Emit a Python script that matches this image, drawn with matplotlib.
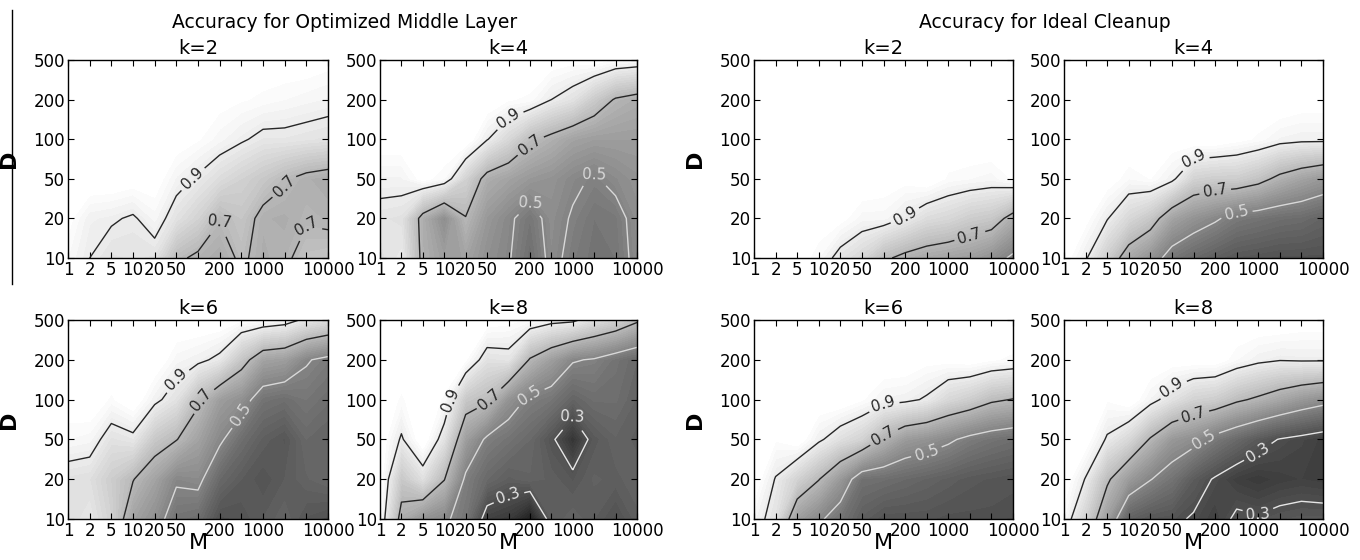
import numpy as np
import matplotlib
matplotlib.use("Agg")
import matplotlib.pyplot as plt
from matplotlib.lines import Line2D


# ===================== Data =====================
# grid axes (plotted by index, labelled with the real values)
M_VALUES = [1, 2, 5, 10, 20, 50, 100, 200, 500, 1000, 2000, 5000, 10000]
D_VALUES = [10, 20, 50, 100, 200, 500]
M_LABELS = ["1", "2", "5", "10", "20", "50", "", "200", "", "1000", "", "", "10000"]
D_LABELS = ["10", "20", "50", "100", "200", "500"]

LEVELS = [0.3, 0.5, 0.7, 0.9]

# accuracy, one row per D (10 -> 500), one column per M (1 -> 10000)
oml_k2 = [
    [0.95, 0.90, 0.86, 0.87, 0.86, 0.72, 0.68, 0.65, 0.72, 0.66, 0.68, 0.74, 0.75],
    [0.98, 0.92, 0.91, 0.89, 0.94, 0.86, 0.80, 0.705, 0.75, 0.67, 0.66, 0.69, 0.68],
    [1.00, 1.00, 1.00, 0.99, 0.99, 0.93, 0.89, 0.84, 0.80, 0.76, 0.71, 0.67, 0.65],
    [1.00, 1.00, 1.00, 1.00, 1.00, 0.99, 0.97, 0.94, 0.91, 0.88, 0.88, 0.87, 0.86],
    [1.00, 1.00, 1.00, 1.00, 1.00, 1.00, 0.99, 0.98, 0.97, 0.96, 0.95, 0.94, 0.93],
    [1.00, 1.00, 1.00, 1.00, 1.00, 1.00, 1.00, 1.00, 1.00, 0.99, 0.99, 0.99, 0.98],
]
oml_k4 = [
    [0.86, 0.89, 0.67, 0.60, 0.62, 0.55, 0.51, 0.42, 0.53, 0.47, 0.44, 0.45, 0.53],
    [0.87, 0.86, 0.66, 0.54, 0.695, 0.58, 0.52, 0.45, 0.54, 0.49, 0.45, 0.46, 0.54],
    [0.93, 0.93, 0.98, 0.95, 0.80, 0.66, 0.62, 0.58, 0.56, 0.52, 0.49, 0.53, 0.56],
    [0.99, 0.99, 1.00, 1.00, 1.00, 0.905, 0.82, 0.72, 0.67, 0.62, 0.60, 0.60, 0.60],
    [1.00, 1.00, 1.00, 1.00, 1.00, 1.00, 0.97, 0.96, 0.90, 0.86, 0.77, 0.69, 0.66],
    [1.00, 1.00, 1.00, 1.00, 1.00, 1.00, 1.00, 1.00, 0.99, 0.98, 0.99, 0.96, 0.95],
]
oml_k6 = [
    [0.85, 0.88, 0.80, 0.62, 0.55, 0.44, 0.42, 0.31, 0.32, 0.35, 0.38, 0.33, 0.31],
    [0.86, 0.85, 0.78, 0.705, 0.62, 0.515, 0.53, 0.40, 0.35, 0.32, 0.35, 0.38, 0.40],
    [0.95, 0.94, 0.86, 0.88, 0.76, 0.705, 0.62, 0.52, 0.42, 0.36, 0.33, 0.40, 0.38],
    [0.99, 1.00, 0.96, 1.00, 0.92, 0.86, 0.72, 0.60, 0.55, 0.44, 0.42, 0.45, 0.42],
    [1.00, 1.00, 1.00, 1.00, 1.00, 0.94, 0.92, 0.88, 0.75, 0.62, 0.60, 0.51, 0.47],
    [1.00, 1.00, 1.00, 1.00, 1.00, 1.00, 1.00, 1.00, 0.97, 0.96, 0.94, 0.88, 0.84],
]
oml_k8 = [
    [0.97, 0.656, 0.56, 0.52, 0.45, 0.25, 0.22, 0.12, 0.35, 0.38, 0.35, 0.31, 0.36],
    [0.99, 0.76, 0.85, 0.705, 0.48, 0.40, 0.36, 0.38, 0.36, 0.33, 0.37, 0.36, 0.38],
    [1.00, 0.89, 1.00, 0.86, 0.60, 0.48, 0.44, 0.40, 0.32, 0.20, 0.34, 0.38, 0.36],
    [1.00, 0.96, 1.00, 0.96, 0.76, 0.72, 0.56, 0.48, 0.45, 0.38, 0.42, 0.42, 0.38],
    [1.00, 1.00, 1.00, 1.00, 0.97, 0.86, 0.87, 0.69, 0.60, 0.51, 0.49, 0.44, 0.40],
    [1.00, 1.00, 1.00, 1.00, 1.00, 0.99, 0.98, 0.96, 0.93, 0.92, 0.85, 0.80, 0.72],
]
ic_k2 = [
    [1.00, 1.00, 0.99, 0.95, 0.87, 0.82, 0.72, 0.67, 0.64, 0.62, 0.60, 0.55, 0.48],
    [1.00, 1.00, 1.00, 0.99, 0.98, 0.94, 0.94, 0.895, 0.84, 0.82, 0.78, 0.76, 0.657],
    [1.00, 1.00, 1.00, 1.00, 1.00, 1.00, 0.99, 0.98, 1.00, 0.96, 0.95, 0.94, 0.97],
    [1.00, 1.00, 1.00, 1.00, 1.00, 1.00, 1.00, 1.00, 1.00, 1.00, 1.00, 1.00, 1.00],
    [1.00, 1.00, 1.00, 1.00, 1.00, 1.00, 1.00, 1.00, 1.00, 1.00, 1.00, 1.00, 1.00],
    [1.00, 1.00, 1.00, 1.00, 1.00, 1.00, 1.00, 1.00, 1.00, 1.00, 1.00, 1.00, 1.00],
]
ic_k4 = [
    [0.99, 0.91, 0.78, 0.64, 0.56, 0.45, 0.40, 0.36, 0.33, 0.32, 0.31, 0.31, 0.31],
    [1.00, 0.98, 0.905, 0.82, 0.757, 0.62, 0.56, 0.515, 0.46, 0.44, 0.42, 0.41, 0.38],
    [1.00, 1.00, 0.99, 0.95, 0.967, 0.92, 0.80, 0.78, 0.78, 0.74, 0.67, 0.62, 0.58],
    [1.00, 1.00, 1.00, 1.00, 1.00, 0.99, 1.00, 1.00, 0.98, 0.96, 0.93, 0.92, 0.92],
    [1.00, 1.00, 1.00, 1.00, 1.00, 1.00, 1.00, 1.00, 1.00, 1.00, 1.00, 0.99, 0.99],
    [1.00, 1.00, 1.00, 1.00, 1.00, 1.00, 1.00, 1.00, 1.00, 1.00, 1.00, 1.00, 1.00],
]
ic_k6 = [
    [0.94, 0.86, 0.60, 0.52, 0.44, 0.36, 0.32, 0.32, 0.32, 0.31, 0.31, 0.31, 0.31],
    [1.00, 0.895, 0.80, 0.705, 0.58, 0.43, 0.42, 0.40, 0.38, 0.36, 0.34, 0.33, 0.32],
    [1.00, 0.97, 1.00, 0.915, 0.85, 0.80, 0.68, 0.59, 0.56, 0.52, 0.47, 0.44, 0.42],
    [1.00, 1.00, 1.00, 1.00, 1.00, 0.97, 0.93, 0.92, 0.89, 0.82, 0.78, 0.72, 0.695],
    [1.00, 1.00, 1.00, 1.00, 1.00, 1.00, 1.00, 1.00, 0.98, 0.98, 0.99, 0.97, 0.96],
    [1.00, 1.00, 1.00, 1.00, 1.00, 1.00, 1.00, 1.00, 1.00, 1.00, 1.00, 1.00, 1.00],
]
ic_k8 = [
    [0.95, 0.80, 0.60, 0.37, 0.33, 0.32, 0.29, 0.25, 0.32, 0.31, 0.33, 0.34, 0.34],
    [1.00, 0.895, 0.72, 0.59, 0.505, 0.44, 0.35, 0.29, 0.24, 0.22, 0.24, 0.25, 0.24],
    [1.00, 0.99, 0.89, 0.82, 0.69, 0.58, 0.54, 0.46, 0.40, 0.34, 0.295, 0.27, 0.243],
    [1.00, 1.00, 0.97, 1.00, 0.93, 0.86, 0.80, 0.78, 0.72, 0.68, 0.63, 0.58, 0.543],
    [1.00, 1.00, 1.00, 1.00, 1.00, 0.99, 0.99, 0.99, 0.95, 0.92, 0.905, 0.91, 0.91],
    [1.00, 1.00, 1.00, 1.00, 1.00, 1.00, 1.00, 1.00, 1.00, 1.00, 1.00, 0.99, 0.99],
]


# ===================== Plot =====================
def draw_panel(ax, grid, title, ylabel=False, xlabel=False):
    z = np.array(grid)
    x = np.arange(len(M_VALUES))
    y = np.arange(len(D_VALUES))

    # shading: darker = lower accuracy, near-perfect cells stay white
    fill_levels = np.linspace(0.0, 1.0, 61)
    ax.contourf(x, y, z, levels=fill_levels, cmap="gray",
                vmin=0.0, vmax=0.975, extend="both")

    line_colors = ["#e6e6e6", "#d8d8d8", "#262626", "#262626"]
    cs = ax.contour(x, y, z, levels=LEVELS, colors=line_colors, linewidths=1.0)
    ax.clabel(cs, fmt="%.1f", fontsize=11, inline=True, inline_spacing=4)

    ax.set_xlim(0, len(M_VALUES) - 1)
    ax.set_ylim(0, len(D_VALUES) - 1)
    ax.set_xticks(x)
    ax.set_xticklabels(M_LABELS)
    ax.set_yticks(y)
    ax.set_yticklabels(D_LABELS)
    ax.tick_params(direction="in", top=True, right=True, length=4,
                   labelsize=12, pad=2)
    for sp in ax.spines.values():
        sp.set_linewidth(1.0)

    ax.set_title(title, fontsize=14, pad=4)
    if ylabel:
        ax.set_ylabel("D", fontsize=16, fontweight="bold")
        ax.yaxis.set_label_coords(-0.19, 0.5)
    if xlabel:
        ax.set_xlabel("M", fontsize=16)
        ax.xaxis.set_label_coords(0.5, -0.07)


fig = plt.figure(figsize=(13.6, 5.6), dpi=100)

W, H = 1360.0, 560.0
cols = [(68, 328), (380, 637), (754, 1013), (1064, 1323)]
rows = [(60, 258), (320, 519)]

panels = [
    [(oml_k2, "k=2"), (oml_k4, "k=4"), (ic_k2, "k=2"), (ic_k4, "k=4")],
    [(oml_k6, "k=6"), (oml_k8, "k=8"), (ic_k6, "k=6"), (ic_k8, "k=8")],
]

for r, (top, bottom) in enumerate(rows):
    for c, (left, right) in enumerate(cols):
        ax = fig.add_axes([left / W, 1 - bottom / H,
                           (right - left) / W, (bottom - top) / H])
        grid, title = panels[r][c]
        draw_panel(ax, grid, title, ylabel=(c in (0, 2)), xlabel=(r == 1))

fig.text(345 / W, 1 - 22 / H, "Accuracy for Optimized Middle Layer",
         ha="center", va="center", fontsize=13.5)
fig.text(1045 / W, 1 - 22 / H, "Accuracy for Ideal Cleanup",
         ha="center", va="center", fontsize=13.5)

# thin rule down the left margin
fig.add_artist(Line2D([12 / W, 12 / W], [1 - 10 / H, 1 - 284 / H],
                      color="black", linewidth=1.0))

fig.savefig("out.png", dpi=100)
